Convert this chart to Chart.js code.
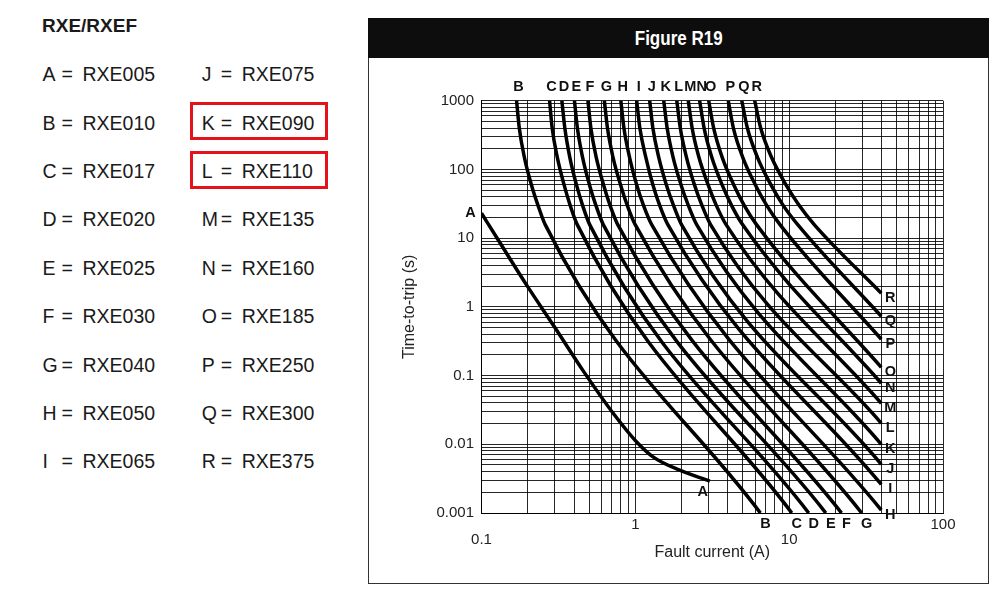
<!DOCTYPE html>
<html>
<head>
<meta charset="utf-8">
<script src="https://cdn.jsdelivr.net/npm/chart.js@4.4.1/dist/chart.umd.min.js"></script>
<style>
  body { margin: 0; background: #fff; width: 1000px; height: 599px; overflow: hidden; position: relative;
         font-family: "Liberation Sans", Arial, sans-serif; color: #1a1a1a; }
  .heading { position: absolute; left: 42px; top: 16px; font-weight: bold; font-size: 19px; line-height: 20px; }
  .cell { position: absolute; font-size: 19.5px; line-height: 20px; white-space: nowrap; }
  .mark { position: absolute; border: 3px solid #e3121b; box-sizing: border-box; }
  #frame { position: absolute; left: 368px; top: 18px; width: 621px; height: 566px; border: 1px solid #333; box-sizing: border-box; }
  #bar { position: absolute; left: 368px; top: 18px; width: 621px; height: 40px; background: #0d0d0d; color: #fff;
         font: bold 20px "Liberation Sans", Arial, sans-serif; text-align: center; line-height: 40px; }
  #bar span { display: inline-block; transform: scaleX(0.85); }
  #plot { position: absolute; left: 369px; top: 58px; width: 618px; height: 524px; }
</style>
</head>
<body>
<div class="heading">RXE/RXEF</div>
<div id="legend"></div>
<div id="frame"></div>
<div id="bar"><span>Figure R19</span></div>
<div id="plot"><canvas id="chart" width="618" height="524"></canvas></div>

<script>
// part list shown on the left
const curveNames = ['A', 'B', 'C', 'D', 'E', 'F', 'G', 'H', 'I', 'J', 'K', 'L', 'M', 'N', 'O', 'P', 'Q', 'R'];
const partNumbers = ['RXE005', 'RXE010', 'RXE017', 'RXE020', 'RXE025', 'RXE030', 'RXE040', 'RXE050', 'RXE065',
                     'RXE075', 'RXE090', 'RXE110', 'RXE135', 'RXE160', 'RXE185', 'RXE250', 'RXE300', 'RXE375'];
const highlighted = ['K', 'L'];
const bottomLabelled = ['B', 'C', 'D', 'E', 'F', 'G'];

// [fault current (A), time-to-trip (s)]
const curveA = [[0.1, 23], [0.13, 9], [0.2, 1.95], [0.3, 0.5], [0.456, 0.119], [0.72, 0.028], [1.02, 0.0108], [1.31, 0.0065], [1.94, 0.0042], [3.05, 0.0029]];
const curveB = [[0.169, 1000], [0.176, 400], [0.19, 150], [0.211, 60], [0.233, 30], [0.26, 15.6], [6.5, 0.001]];
const curveC = [[0.277, 1000], [0.288, 400], [0.311, 150], [0.344, 60], [0.377, 30], [0.42, 15.6], [10.4, 0.001]];
const curveD = [[0.333, 1000], [0.348, 400], [0.375, 150], [0.414, 60], [0.454, 30], [0.506, 15.6], [13.4, 0.001]];
const curveE = [[0.402, 1000], [0.42, 400], [0.454, 150], [0.503, 60], [0.554, 30], [0.62, 15.6], [17.3, 0.001]];
const curveF = [[0.492, 1000], [0.514, 400], [0.557, 150], [0.621, 60], [0.685, 30], [0.77, 15.6], [21.9, 0.001]];
const curveG = [[0.629, 1000], [0.659, 400], [0.716, 150], [0.801, 60], [0.886, 30], [1.0, 15.6], [29.6, 0.001]];
const curveH = [[0.805, 1000], [0.843, 400], [0.917, 150], [1.02, 60], [1.13, 30], [1.28, 15.6], [39.7, 0.0011]];
const curveI = [[1.02, 1000], [1.07, 400], [1.17, 150], [1.3, 60], [1.44, 30], [1.63, 15.6], [39.7, 0.0026]];
const curveJ = [[1.24, 1000], [1.3, 400], [1.42, 150], [1.59, 60], [1.77, 30], [2.0, 15.6], [39.7, 0.0051]];
const curveK = [[1.53, 1000], [1.61, 400], [1.76, 150], [1.98, 60], [2.21, 30], [2.51, 15.6], [39.7, 0.01]];
const curveL = [[1.86, 1000], [1.96, 400], [2.15, 150], [2.42, 60], [2.71, 30], [3.09, 15.6], [39.7, 0.0202]];
const curveM = [[2.21, 1000], [2.34, 400], [2.59, 150], [2.97, 60], [3.36, 30], [3.9, 15.6], [39.7, 0.0395]];
const curveN = [[2.62, 1000], [2.8, 400], [3.14, 150], [3.66, 60], [4.22, 30], [4.99, 15.6], [39.7, 0.0773]];
const curveO = [[3.0, 1000], [3.23, 400], [3.67, 150], [4.36, 60], [5.1, 30], [6.15, 15.6], [39.7, 0.132]];
const curveP = [[4.02, 1000], [4.34, 400], [4.99, 150], [6.02, 60], [7.14, 30], [8.74, 15.6], [39.7, 0.338]];
const curveQ = [[4.92, 1000], [5.35, 400], [6.22, 150], [7.6, 60], [9.14, 30], [11.4, 15.6], [39.7, 0.731]];
const curveR = [[5.97, 1000], [6.53, 400], [7.68, 150], [9.52, 60], [11.6, 30], [14.6, 15.6], [39.7, 1.58]];
const curves = [curveA, curveB, curveC, curveD, curveE, curveF, curveG, curveH, curveI,
                curveJ, curveK, curveL, curveM, curveN, curveO, curveP, curveQ, curveR];

// axes
const xDecades = [0.1, 1, 10, 100];
const xTickLabels = ['0.1', '1', '10', '100'];
const yDecades = [0.001, 0.01, 0.1, 1, 10, 100, 1000];
const yTickLabels = ['0.001', '0.01', '0.1', '1', '10', '100', '1000'];
const minorSteps = [1, 2, 3, 4, 5, 6, 7, 8, 9];

function gridValues(decades) {
    const vals = [];
    decades.slice(0, -1).forEach(d => minorSteps.forEach(m => vals.push(d * m)));
    vals.push(decades[decades.length - 1]);
    return vals;
}

// left-hand legend
const legend = document.getElementById('legend');
function addCell(text, left, cy) {
    const el = document.createElement('div');
    el.className = 'cell';
    el.textContent = text;
    el.style.left = left + 'px';
    el.style.top = (cy - 9.8) + 'px';
    legend.appendChild(el);
}
curveNames.forEach((name, i) => {
    const colX = i < 9 ? 42.5 : 201.7;
    const cy = 74 + (i % 9) * 48.4;
    addCell(name, colX, cy);
    addCell('=', colX + 19, cy);
    addCell(partNumbers[i], colX + 40, cy);
    if (highlighted.includes(name)) {
        const box = document.createElement('div');
        box.className = 'mark';
        box.style.left = (colX - 12) + 'px';
        box.style.top = (cy - 20) + 'px';
        box.style.width = '138px';
        box.style.height = '38px';
        legend.appendChild(box);
    }
});

// letters next to each curve
const curveLabels = {
    id: 'curveLabels',
    afterDatasetsDraw(chart) {
        const { ctx, chartArea, scales: { x, y } } = chart;
        ctx.save();
        ctx.font = 'bold 14.5px "Liberation Sans", Arial, sans-serif';
        ctx.fillStyle = '#111';
        ctx.textAlign = 'center';
        ctx.textBaseline = 'middle';
        curves.forEach((pts, i) => {
            const name = curveNames[i];
            const first = pts[0], last = pts[pts.length - 1];
            const x0 = x.getPixelForValue(first[0]), y0 = y.getPixelForValue(first[1]);
            const x1 = x.getPixelForValue(last[0]), y1 = y.getPixelForValue(last[1]);
            if (name === 'A') {
                ctx.fillText(name, x0 - 11, y0);
                ctx.fillText(name, x1 - 7, y1 + 11);
                return;
            }
            ctx.fillText(name, x0 + 2, chartArea.top - 14);
            if (bottomLabelled.includes(name)) ctx.fillText(name, x1 + 5, chartArea.bottom + 11);
            else ctx.fillText(name, x1 + 9, y1 + 5);
        });
        ctx.restore();
    }
};

const tickFont = { family: '"Liberation Sans", Arial, sans-serif', size: 15 };
const titleFont = { family: '"Liberation Sans", Arial, sans-serif', size: 16 };
const gridStyle = { color: 'rgba(0,0,0,0.85)', lineWidth: 1, drawTicks: false };

new Chart(document.getElementById('chart'), {
    type: 'line',
    data: {
        datasets: curves.map((pts, i) => ({
            label: curveNames[i],
            data: pts.map(p => ({ x: p[0], y: p[1] })),
            borderColor: '#000',
            borderWidth: 3.5,
            pointRadius: 0,
            fill: false,
            cubicInterpolationMode: 'monotone'
        }))
    },
    options: {
        responsive: false,
        animation: false,
        devicePixelRatio: 1,
        layout: { padding: { top: 42.7, right: 44, bottom: 0, left: 0 } },
        plugins: { legend: { display: false }, tooltip: { enabled: false } },
        scales: {
            x: {
                type: 'logarithmic',
                min: 0.1,
                max: 100,
                afterBuildTicks: s => { s.ticks = gridValues(xDecades).map(v => ({ value: v })); },
                afterFit: s => { s.height = 69; },
                grid: gridStyle,
                border: { color: '#000', width: 1 },
                ticks: {
                    autoSkip: false,
                    maxRotation: 0,
                    padding: 5,
                    color: '#222',
                    font: { ...tickFont, lineHeight: 0.95 },
                    callback: v => {
                        const i = xDecades.indexOf(v);
                        if (i < 0) return '';
                        return i % 2 === 0 ? ['', xTickLabels[i]] : xTickLabels[i];
                    }
                },
                title: { display: true, text: 'Fault current (A)', color: '#222', font: titleFont, padding: { top: 0, bottom: 19.4 } }
            },
            y: {
                type: 'logarithmic',
                min: 0.001,
                max: 1000,
                afterBuildTicks: s => { s.ticks = gridValues(yDecades).map(v => ({ value: v })); },
                afterFit: s => { s.width = 112.5; },
                grid: gridStyle,
                border: { color: '#000', width: 1 },
                ticks: {
                    autoSkip: false,
                    padding: 7.5,
                    color: '#222',
                    font: tickFont,
                    callback: v => {
                        const i = yDecades.indexOf(v);
                        return i < 0 ? '' : yTickLabels[i];
                    }
                },
                title: { display: true, text: 'Time-to-trip (s)', color: '#222', font: titleFont, padding: { top: 31.4, bottom: 0 } }
            }
        }
    },
    plugins: [curveLabels]
});
</script>
</body>
</html>
